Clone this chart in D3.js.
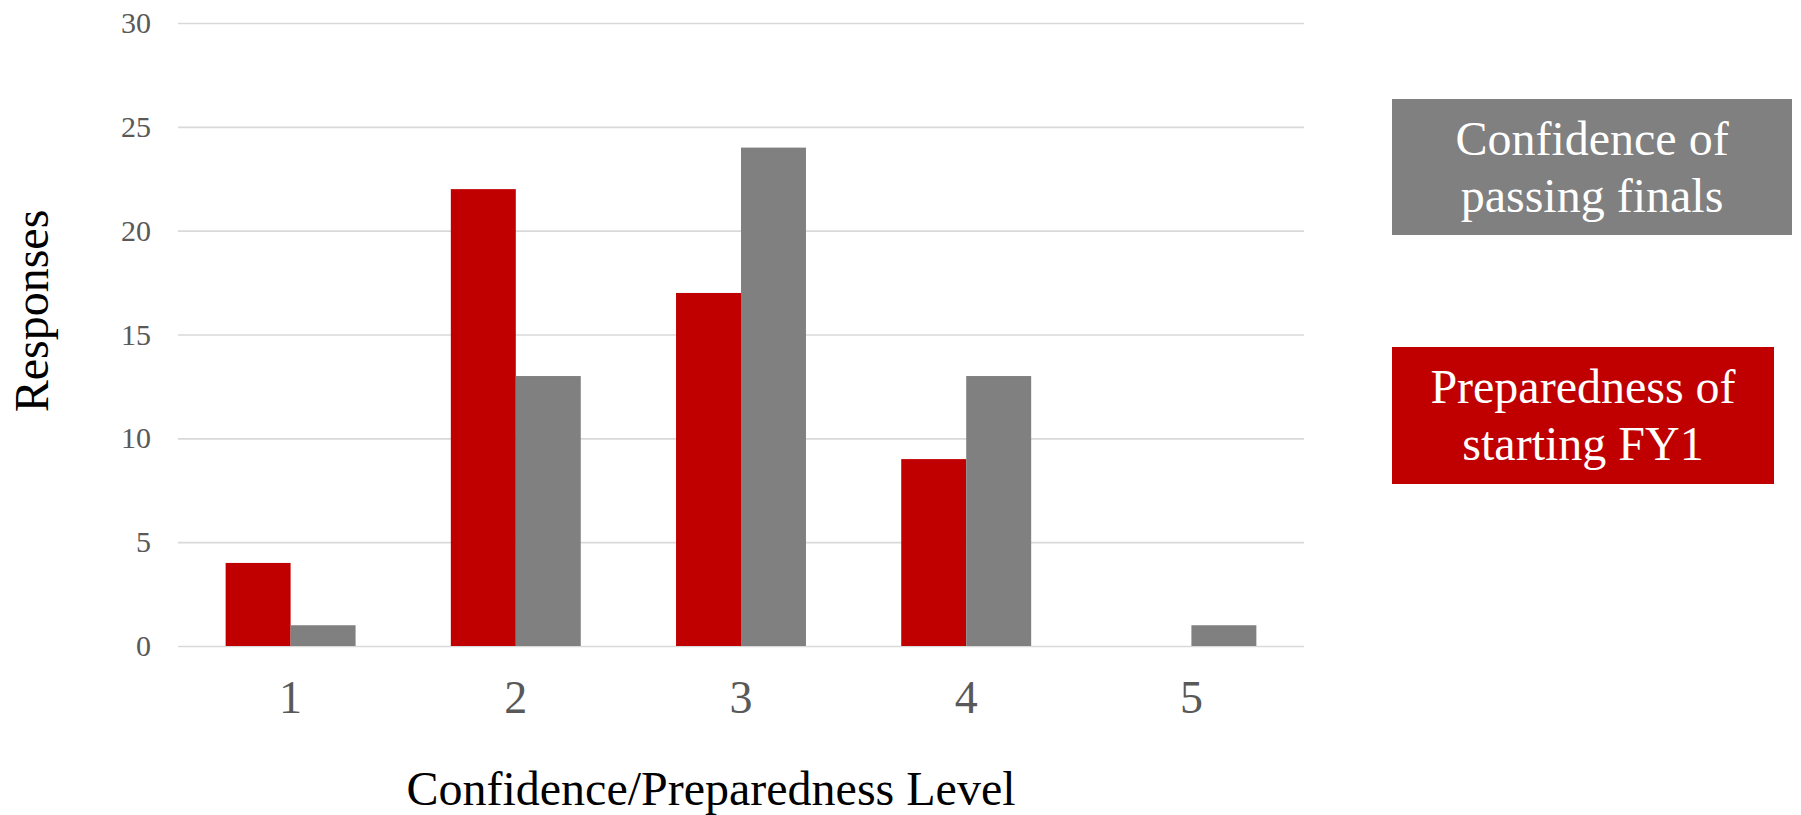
<!DOCTYPE html>
<html>
<head>
<meta charset="utf-8">
<script src="https://cdn.jsdelivr.net/npm/d3@7"></script>
<style>
  body { margin: 0; background: #fff; }
  text { font-family: "Liberation Serif", "Times New Roman", serif; }
</style>
</head>
<body>
<div id="chart"></div>
<script>
/* Grouped bar chart: confidence vs preparedness */

const height = 815,
  width = 1801,
  margin = ({ top: 23, right: 497, bottom: 169, left: 178 });

// data
const levels = ["1", "2", "3", "4", "5"];
const seriesNames = ["Preparedness of starting FY1", "Confidence of passing finals"];
const preparedness = [4, 22, 17, 9, 0];
const confidence = [1, 13, 24, 13, 1];
const yTicks = [0, 5, 10, 15, 20, 25, 30];
const colors = ["#C00000", "#808080"];

const svg = d3.select("#chart")
  .append("svg")
  .attr("width", width)
  .attr("height", height)
  .attr("viewBox", [0, 0, width, height]);

const rows = levels.map((lvl, i) => ({ level: lvl, values: [preparedness[i], confidence[i]] }));

let x = d3.scaleBand()
  .domain(levels)
  .range([margin.left, width - margin.right])
  .paddingInner(0.423)
  .paddingOuter(0.2115);

let xs = d3.scaleBand()
  .domain(seriesNames)
  .range([0, x.bandwidth()]);

let y = d3.scaleLinear()
  .domain([0, 30])
  .range([height - margin.bottom - 0, margin.top]);

// gridlines + y tick labels
const yAxis = svg.append("g")
  .attr("transform", `translate(${margin.left},0)`)
  .call(d3.axisLeft(y)
    .tickValues(yTicks)
    .tickSize(-(width - margin.right - margin.left))
    .tickPadding(27)
    .tickSizeOuter(0));

yAxis.select(".domain").remove();
yAxis.selectAll(".tick line")
  .attr("stroke", "#D9D9D9")
  .attr("stroke-width", 1.7);
yAxis.selectAll(".tick text")
  .attr("fill", "#595959")
  .attr("font-size", 30)
  .attr("font-family", "Liberation Serif, Times New Roman, serif");

// bars
const groups = svg.append("g")
  .selectAll("g")
  .data(rows)
  .join("g")
  .attr("transform", d => `translate(${x(d.level)},0)`);

groups.selectAll("rect")
  .data(d => d.values.map((v, j) => ({ key: seriesNames[j], value: v, color: colors[j] })))
  .join("rect")
  .attr("x", d => xs(d.key))
  .attr("width", xs.bandwidth())
  .attr("y", d => y(d.value))
  .attr("height", d => y(0) - y(d.value))
  .attr("fill", d => d.color);

// x tick labels
const xAxis = svg.append("g")
  .attr("transform", `translate(0,${y(0)})`)
  .call(d3.axisBottom(x).tickSize(0).tickPadding(34));

xAxis.select(".domain").remove();
xAxis.selectAll(".tick text")
  .attr("fill", "#595959")
  .attr("font-size", 46)
  .attr("font-family", "Liberation Serif, Times New Roman, serif");

// axis titles
svg.append("text")
  .attr("class", "x-label")
  .attr("text-anchor", "middle")
  .attr("x", (margin.left + width - margin.right) / 2 - 30)
  .attr("y", 805)
  .attr("font-size", 48)
  .attr("fill", "#000")
  .text("Confidence/Preparedness Level");

svg.append("text")
  .attr("class", "y-label")
  .attr("text-anchor", "middle")
  .attr("transform", "translate(48,311) rotate(-90)")
  .attr("font-size", 48)
  .attr("fill", "#000")
  .text("Responses");

// legend boxes (gray on top, red below)
const legend = [
  { lines: ["Confidence of", "passing finals"], color: colors[1], x: 1392, y: 99, w: 400, h: 136 },
  { lines: ["Preparedness of", "starting FY1"], color: colors[0], x: 1392, y: 347, w: 382, h: 137 }
];

const lg = svg.append("g")
  .selectAll("g")
  .data(legend)
  .join("g");

lg.append("rect")
  .attr("x", d => d.x)
  .attr("y", d => d.y)
  .attr("width", d => d.w)
  .attr("height", d => d.h)
  .attr("fill", d => d.color);

lg.each(function (d) {
  const g = d3.select(this);
  d.lines.forEach((t, i) => {
    g.append("text")
      .attr("x", d.x + d.w / 2)
      .attr("y", d.y + 56 + i * 57)
      .attr("text-anchor", "middle")
      .attr("font-size", 48)
      .attr("fill", "#fff")
      .text(t);
  });
});
</script>
</body>
</html>
